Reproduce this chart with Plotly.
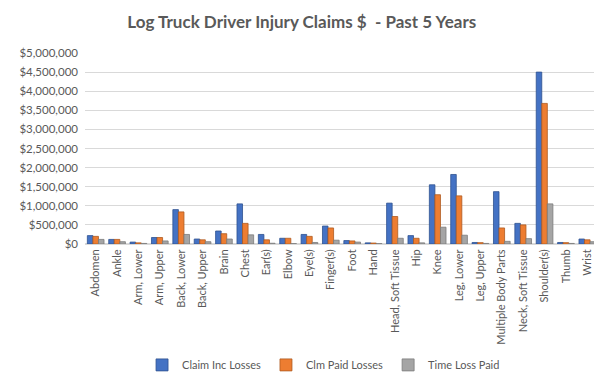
import plotly.graph_objects as go

categories = ["Abdomen", "Ankle", "Arm, Lower", "Arm, Upper", "Back, Lower", "Back, Upper",
              "Brain", "Chest", "Ear(s)", "Elbow", "Eye(s)", "Finger(s)", "Foot", "Hand",
              "Head, Soft Tissue", "Hip", "Knee", "Leg, Lower", "Leg, Upper",
              "Multiple Body Parts", "Neck, Soft Tissue", "Shoulder(s)", "Thumb", "Wrist"]

claim_inc_losses = [220000, 120000, 50000, 170000, 900000, 130000, 340000, 1050000, 250000,
                    150000, 250000, 470000, 90000, 30000, 1070000, 220000, 1550000, 1820000,
                    40000, 1370000, 540000, 4500000, 40000, 130000]
clm_paid_losses = [200000, 120000, 30000, 170000, 840000, 110000, 270000, 540000, 110000,
                   150000, 200000, 420000, 80000, 25000, 720000, 150000, 1290000, 1260000,
                   35000, 420000, 500000, 3680000, 35000, 110000]
time_loss_paid = [120000, 60000, 15000, 80000, 250000, 60000, 130000, 240000, 20000,
                  10000, 40000, 100000, 50000, 10000, 150000, 30000, 440000, 230000,
                  15000, 70000, 140000, 1050000, 15000, 60000]

series_names = ["Claim Inc Losses", "Clm Paid Losses", "Time Loss Paid"]
series_colors = ["#4472C4", "#ED7D31", "#A5A5A5"]
edge_colors = ["#2F528F", "#AE5A21", "#7B7B7B"]

font_family = "Lato, 'Open Sans', sans-serif"
text_color = "#595959"

fig = go.Figure()
for name, vals, col, ec in zip(series_names,
                               [claim_inc_losses, clm_paid_losses, time_loss_paid],
                               series_colors, edge_colors):
    fig.add_trace(go.Bar(x=categories, y=vals, name=name,
                         marker=dict(color=col, line=dict(color=ec, width=0.8))))

fig.update_layout(
    width=602, height=384,
    paper_bgcolor="white", plot_bgcolor="white",
    margin=dict(l=77, r=12, t=45, b=140),
    barmode="group", bargap=0.22, bargroupgap=0.0,
    title=dict(text="<b>Log Truck Driver Injury Claims $  - Past 5 Years</b>",
               x=0.488, xanchor="center", y=0.963, yanchor="middle",
               font=dict(family=font_family, size=17, color=text_color)),
    font=dict(family=font_family, size=11, color=text_color),
    legend=dict(orientation="h", x=0.465, xanchor="center", y=-0.633, yanchor="middle",
                font=dict(family=font_family, size=11, color=text_color),
                itemwidth=30, traceorder="normal"),
    showlegend=True,
)
fig.update_yaxes(range=[0, 5000000], dtick=500000, tickformat="$,.0f",
                 showgrid=True, gridcolor="#D9D9D9", gridwidth=1,
                 zeroline=True, zerolinecolor="#D9D9D9", ticks="",
                 tickfont=dict(size=11.5, color=text_color), ticklabelstandoff=6)
fig.update_xaxes(tickangle=-90, showline=True, linecolor="#D9D9D9", ticks="",
                 tickfont=dict(size=11, color=text_color))

fig.write_html("out.html")
